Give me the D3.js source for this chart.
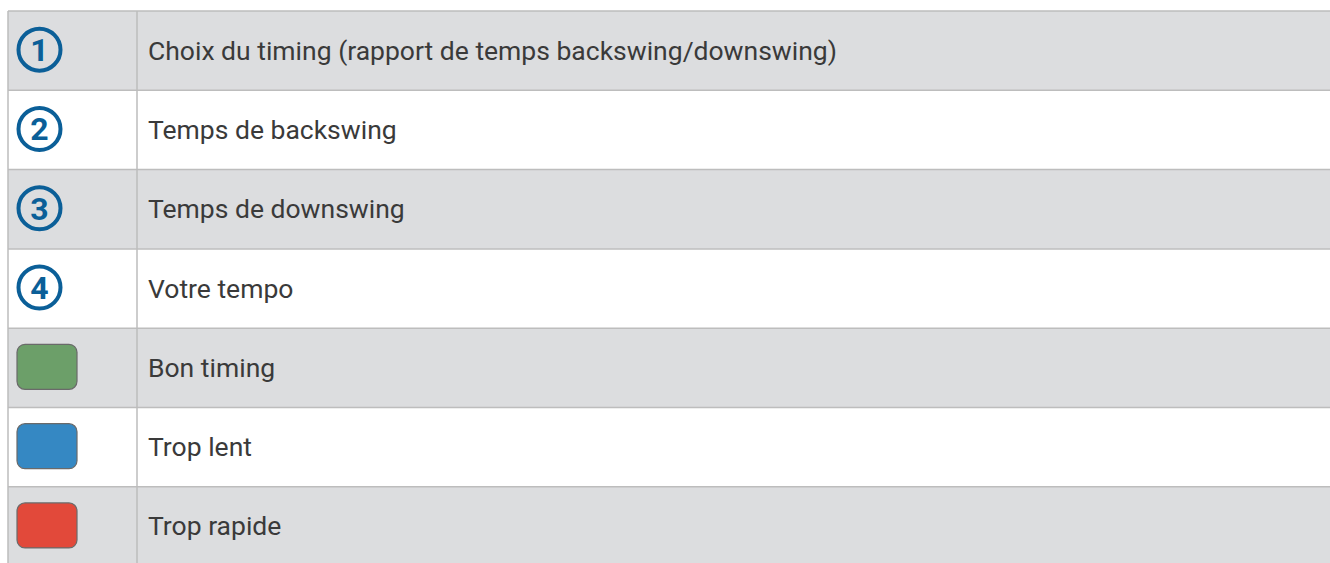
<!DOCTYPE html>
<html><head><meta charset="utf-8">
<script src="https://cdn.jsdelivr.net/npm/d3@7"></script>
<style>body{margin:0;background:#fff;overflow:hidden}</style>
</head><body>
<svg id="c" width="1330" height="563"></svg>
<script>
const symbols = ["1","2","3","4","green","blue","red"];
const labels = [
  "Choix du timing (rapport de temps backswing/downswing)",
  "Temps de backswing",
  "Temps de downswing",
  "Votre tempo",
  "Bon timing",
  "Trop lent",
  "Trop rapide"
];
const swatchColors = {green:"#6c9f69", blue:"#3588c3", red:"#e2493a"};
const circledGlyphs = {"1":"1","2":"2","3":"3","4":"4"};

const svg = d3.select("#c");
const leftX = 8, colX = 137, rightX = 1330, topY = 11, rowH = 79.3;
const yScale = d3.scaleBand().domain(d3.range(labels.length)).range([topY, topY + rowH*labels.length]).padding(0);
const bottomY = topY + rowH*labels.length;

const rows = svg.selectAll("g.row").data(labels).join("g").attr("class","row")
  .attr("transform",(d,i)=>`translate(0,${yScale(i)})`);
rows.append("rect").attr("x",leftX).attr("y",0).attr("width",rightX-leftX).attr("height",yScale.bandwidth())
  .attr("fill",(d,i)=> i%2===0 ? "#dcdddf" : "#ffffff");
rows.append("text").attr("x",148).attr("y",yScale.bandwidth()/2 + 9)
  .attr("font-family","Roboto").attr("font-size",26.5).attr("fill","#3a3a3a").text(d=>d);

rows.each(function(d,i){
  const g = d3.select(this), s = symbols[i], cy = yScale.bandwidth()/2 - 1;
  if (circledGlyphs[s]) {
    g.append("circle").attr("cx",39.5).attr("cy",cy).attr("r",21).attr("fill","none")
      .attr("stroke","#0b5f98").attr("stroke-width",4);
    g.append("text").attr("x",39.5).attr("y",cy + 11.5).attr("text-anchor","middle")
      .attr("font-family","Roboto").attr("font-weight","bold").attr("font-size",32).attr("fill","#0b5f98").text(circledGlyphs[s]);
  } else {
    g.append("rect").attr("x",17).attr("y",cy-22.5).attr("width",60).attr("height",45).attr("rx",8)
      .attr("fill",swatchColors[s]).attr("stroke","#6a6a6a").attr("stroke-width",1.2);
  }
});

const lineC = "#bdbdbd";
const hs = d3.range(labels.length).map(i=>yScale(i)).concat([bottomY]);
svg.selectAll("line.h").data(hs).join("line").attr("class","h")
  .attr("x1",leftX).attr("x2",rightX).attr("y1",d=>d).attr("y2",d=>d)
  .attr("stroke",lineC).attr("stroke-width",1.5);
svg.selectAll("line.v").data([leftX,colX]).join("line").attr("class","v")
  .attr("x1",d=>d).attr("x2",d=>d).attr("y1",topY).attr("y2",bottomY)
  .attr("stroke",lineC).attr("stroke-width",1.5);
</script>
</body></html>
